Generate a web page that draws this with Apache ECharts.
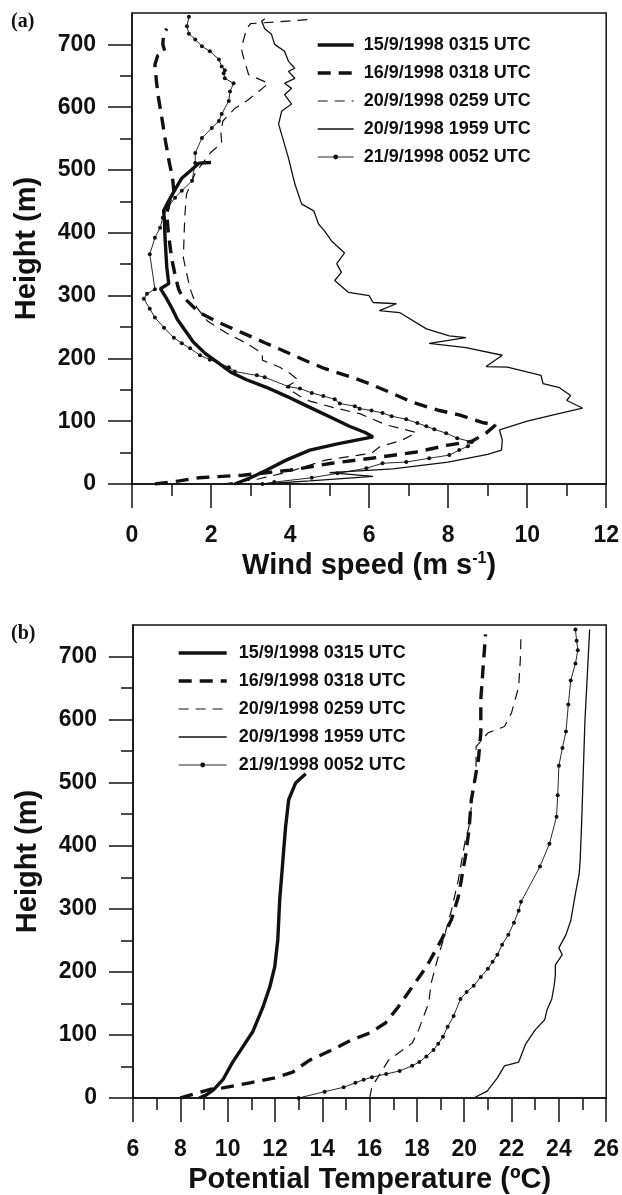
<!DOCTYPE html>
<html><head><meta charset="utf-8">
<script src="https://cdn.jsdelivr.net/npm/echarts@6/dist/echarts.min.js"></script>
<style>html,body{margin:0;padding:0;background:#fff}#c{width:622px;height:1195px}</style>
</head><body><div id="c"></div>
<script>
// ---------- categories / names ----------
const seriesNames = ['15/9/1998 0315 UTC','16/9/1998 0318 UTC','20/9/1998 0259 UTC','20/9/1998 1959 UTC','21/9/1998 0052 UTC'];
// ---------- tick values ----------
const windTicks = {min:0, max:12, interval:2};
const thetaTicks = {min:6, max:26, interval:2};
const heightMajor = [0,100,200,300,400,500,600,700];
const heightMinor = [50,150,250,350,450,550,650];
const heightMax = 750;

// ---------- panel (a): wind speed [m/s, height m] ----------
const wind_0315 = [[2.6,0],[3.0,10],[3.4,22],[3.9,38],[4.5,54],[5.2,64],[6.1,75],[5.9,82],[5.5,92],[5.2,101],[4.5,122],[3.9,140],[3.4,154],[2.9,166],[2.5,178],[2.2,192],[1.85,208],[1.55,226],[1.35,244],[1.15,262],[1.0,281],[0.85,298],[0.72,311],[0.93,319],[0.88,345],[0.84,387],[0.82,420],[0.8,435],[0.93,451],[1.1,470],[1.26,487],[1.5,500],[1.7,511],[2.0,512]];
const wind_0318 = [[0.58,0],[1.2,5],[1.7,10],[2.8,14],[4.0,22],[5.05,33],[6.06,41],[7.2,51],[8.0,62],[8.6,68],[8.96,81],[9.2,94],[8.86,98],[8.28,110],[7.78,117],[7.1,130],[6.6,144],[6.0,160],[5.56,170],[4.87,184],[4.37,197],[3.8,213],[3.36,225],[2.78,241],[2.2,257],[1.7,273],[1.26,300],[1.18,310],[1.1,330],[1.0,360],[0.92,400],[0.88,430],[0.95,450],[1.06,467],[1.02,490],[0.95,510],[0.85,545],[0.75,585],[0.67,615],[0.62,640],[0.58,668],[0.65,682],[0.83,689],[0.78,700],[0.8,717],[0.88,725]];
const wind_0259 = [[2.3,0],[3.2,8],[4.0,20],[4.9,38],[6.06,49],[6.26,59],[6.84,70],[7.2,82],[6.44,94],[5.76,112],[5.08,122],[4.5,132],[4.24,140],[3.9,154],[4.2,166],[4.0,176],[3.74,186],[3.3,197],[3.3,208],[2.9,224],[2.4,240],[1.9,260],[1.64,281],[1.46,313],[1.3,360],[1.32,400],[1.34,430],[1.38,462],[1.6,495],[1.98,527],[2.27,543],[2.25,560],[2.3,578],[2.6,598],[2.9,610],[3.2,625],[3.46,638],[2.95,652],[2.85,673],[2.78,689],[2.8,702],[2.9,725],[3.0,733],[4.6,740]];
const wind_1959 = [[3.3,0],[4.5,5],[6.1,12],[5.0,18],[6.6,24],[8.0,35],[9.0,47],[9.35,54],[9.37,70],[9.3,86],[10.0,100],[10.8,112],[11.4,121],[11.0,133],[11.1,141],[10.8,154],[10.4,160],[10.35,173],[9.5,186],[8.96,187],[9.37,205],[8.45,217],[7.52,224],[8.45,233],[8.03,236],[7.45,247],[6.77,273],[6.26,276],[6.69,287],[6.1,289],[6.0,300],[5.48,305],[5.13,324],[5.3,337],[5.18,351],[5.38,368],[5.05,387],[4.87,403],[4.72,414],[4.6,435],[4.29,446],[4.12,478],[3.96,519],[3.71,573],[3.79,594],[4.04,605],[3.86,620],[4.04,630],[3.86,638],[4.12,646],[3.96,657],[4.12,662],[3.96,673],[3.86,689],[3.61,700],[3.53,716],[3.36,725],[3.28,737],[3.36,741]];
const wind_0052 = [[3.3,0],[3.6,3],[4.55,10],[5.2,17],[5.93,25],[6.34,33],[6.94,35],[7.52,41],[8.03,46],[8.28,54],[8.5,60],[8.6,67],[8.23,73],[7.95,81],[7.65,87],[7.45,92],[7.22,97],[6.94,103],[6.57,108],[6.34,113],[6.06,117],[5.76,120],[5.64,124],[5.26,128],[5.13,135],[4.84,140],[4.55,145],[4.25,152],[3.96,155],[3.36,170],[3.16,173],[2.6,179],[2.45,186],[1.97,198],[1.72,205],[1.47,216],[1.26,224],[1.06,233],[0.81,249],[0.58,265],[0.45,279],[0.3,295],[0.38,303],[0.58,310],[0.45,366],[0.58,392],[0.71,408],[0.78,424],[0.9,440],[1.09,456],[1.26,467],[1.52,483],[1.6,511],[1.6,527],[1.77,551],[2.02,567],[2.2,578],[2.27,589],[2.45,610],[2.48,625],[2.57,638],[2.35,646],[2.32,654],[2.35,659],[2.27,665],[2.2,676],[1.97,689],[1.77,697],[1.6,708],[1.44,717],[1.39,729],[1.44,744]];

// ---------- panel (b): potential temperature [degC, height m] ----------
const theta_0315 = [[8.8,0],[9.1,5],[9.4,13],[9.8,29],[10.2,56],[10.64,81],[11.06,105],[11.49,144],[11.78,176],[11.99,208],[12.12,251],[12.2,314],[12.3,360],[12.37,394],[12.45,430],[12.58,473],[12.88,500],[13.3,514]];
const theta_0318 = [[8.0,0],[8.45,5],[9.3,14],[9.8,16],[10.94,24],[12.0,32],[12.75,41],[13.0,48],[13.47,60],[14.4,76],[15.24,92],[16.0,103],[16.67,119],[17.2,144],[17.8,176],[18.4,208],[19.04,251],[19.46,283],[19.75,319],[20.05,383],[20.2,425],[20.3,473],[20.6,537],[20.7,579],[20.7,632],[20.8,684],[20.9,735]];
const theta_0259 = [[16.0,0],[16.1,18],[16.8,60],[17.8,87],[18.07,108],[18.5,151],[18.6,182],[18.9,224],[19.2,262],[19.46,298],[19.75,346],[20.05,410],[20.2,430],[20.5,525],[20.5,557],[21.0,579],[21.7,589],[22.0,611],[22.3,652],[22.37,695],[22.4,738]];
const theta_1959 = [[20.4,0],[20.97,11],[21.4,32],[21.7,51],[22.3,57],[22.6,86],[23.0,108],[23.4,124],[23.5,140],[23.7,157],[23.8,178],[23.85,195],[23.85,211],[24.14,227],[24.0,238],[24.3,259],[24.5,281],[24.7,324],[24.86,356],[24.9,378],[24.96,435],[25.1,597],[25.3,743]];
const theta_0052 = [[13.0,0],[14.1,10],[14.9,17],[15.4,24],[15.75,29],[16.1,33],[16.7,38],[17.27,43],[17.8,51],[18.1,57],[18.4,66],[18.7,76],[18.9,86],[19.1,97],[19.3,113],[19.55,130],[19.84,157],[20.1,168],[20.4,178],[20.7,192],[21.0,205],[21.2,216],[21.4,227],[21.6,243],[21.86,259],[22.1,278],[22.3,297],[22.4,311],[23.2,367],[23.6,403],[23.9,446],[23.95,480],[24.0,527],[24.15,555],[24.3,581],[24.4,624],[24.5,662],[24.7,689],[24.8,710],[24.75,725],[24.7,743]];

const windSets = [wind_0315, wind_0318, wind_0259, wind_1959, wind_0052];
const thetaSets = [theta_0315, theta_0318, theta_0259, theta_1959, theta_0052];

// ---------- styles ----------
const INK = '#111';
const FONT = 'Liberation Sans, Arial, sans-serif';
const lineStyles = [
  {width:3.4, type:'solid'},
  {width:3.4, type:[13,8]},
  {width:1.2, type:[10,7]},
  {width:1.3, type:'solid'},
  {width:0.9, type:'solid'}
];
function mkSeries(sets, gi) {
  return sets.map((d, i) => ({
    name: seriesNames[i], type: 'line', xAxisIndex: gi, yAxisIndex: gi * 2,
    data: d, animation: false, silent: true,
    symbol: i === 4 ? 'circle' : 'none', symbolSize: 4, showSymbol: i === 4,
    itemStyle: {color: INK},
    lineStyle: Object.assign({color: INK}, lineStyles[i]),
    z: 5 - i
  }));
}
function legendData() {
  return seriesNames.map((n, i) => {
    const item = {name: n, lineStyle: {color: INK, width: lineStyles[i].width, type: lineStyles[i].type}};
    if (i !== 4) item.itemStyle = {opacity: 0};
    else item.itemStyle = {color: INK};
    return item;
  });
}
const legendText = {fontFamily: FONT, fontWeight: 'bold', fontSize: 18, lineHeight: 18, color: INK, padding: [0,0,0,5]};
function xAxisCfg(gi, t, name) {
  return {
    gridIndex: gi, type: 'value', min: t.min, max: t.max, interval: t.interval,
    axisLine: {show: true, onZero: false, lineStyle: {color: INK, width: 1.5}},
    axisTick: {show: true, inside: false, length: 24, lineStyle: {color: INK, width: 1.5}},
    minorTick: {show: true, splitNumber: 2, length: 12, lineStyle: {color: INK, width: 1.5}},
    axisLabel: {margin: 40, color: INK, fontFamily: FONT, fontWeight: 'bold', fontSize: 23},
    splitLine: {show: false}, minorSplitLine: {show: false},
    name: name, nameLocation: 'middle', nameGap: 67,
    nameTextStyle: {color: INK, fontFamily: FONT, fontWeight: 'bold', fontSize: 29,
      rich: {sup: {fontFamily: FONT, fontWeight: 'bold', fontSize: 16, verticalAlign: 'top', padding: [0,0,14,0], color: INK}}}
  };
}
function yAxesCfg(gi) {
  return [{
    gridIndex: gi, type: 'value', min: 0, max: heightMax, position: 'left',
    axisLine: {show: true, onZero: false, lineStyle: {color: INK, width: 1.5}},
    axisTick: {show: true, inside: false, length: 24, customValues: heightMajor, lineStyle: {color: INK, width: 1.5}},
    axisLabel: {customValues: heightMajor, margin: 36, color: INK, fontFamily: FONT, fontWeight: 'bold', fontSize: 23},
    splitLine: {show: false},
    name: 'Height (m)', nameLocation: 'middle', nameGap: 91, nameRotate: 90,
    nameTextStyle: {color: INK, fontFamily: FONT, fontWeight: 'bold', fontSize: 29}
  }, {
    gridIndex: gi, type: 'value', min: 0, max: heightMax, position: 'left',
    axisLine: {show: false},
    axisTick: {show: true, inside: false, length: 12, customValues: heightMinor, lineStyle: {color: INK, width: 1.5}},
    axisLabel: {show: false}, splitLine: {show: false}
  }];
}

const chart = echarts.init(document.getElementById('c'), null, {renderer: 'canvas'});
chart.setOption({
  animation: false,
  backgroundColor: '#fff',
  title: [
    {text: '(a)', left: 11, top: 12, padding: 0, textStyle: {fontFamily: 'Liberation Serif, Times New Roman, serif', fontWeight: 'bold', fontSize: 20, color: INK}},
    {text: '(b)', left: 11, top: 624, padding: 0, textStyle: {fontFamily: 'Liberation Serif, Times New Roman, serif', fontWeight: 'bold', fontSize: 20, color: INK}}
  ],
  grid: [
    {left: 132, top: 13, width: 476, height: 471, show: true, borderColor: INK, borderWidth: 1.5, backgroundColor: 'transparent'},
    {left: 133, top: 625, width: 475, height: 473, show: true, borderColor: INK, borderWidth: 1.5, backgroundColor: 'transparent'}
  ],
  legend: [
    {data: legendData(), orient: 'vertical', left: 316, top: 36, padding: 0, itemWidth: 36, itemHeight: 6, itemGap: 10,
      textStyle: legendText, selectedMode: false},
    {data: legendData(), orient: 'vertical', left: 177, top: 644, padding: 0, itemWidth: 48, itemHeight: 6, itemGap: 10,
      textStyle: Object.assign({}, legendText, {padding: [0,0,0,7]}), selectedMode: false}
  ],
  xAxis: [
    xAxisCfg(0, windTicks, 'Wind speed (m s{sup|-1})'),
    xAxisCfg(1, thetaTicks, 'Potential Temperature (ºC)')
  ],
  yAxis: yAxesCfg(0).concat(yAxesCfg(1)),
  series: mkSeries(windSets, 0).concat(mkSeries(thetaSets, 1))
});
</script></body></html>
